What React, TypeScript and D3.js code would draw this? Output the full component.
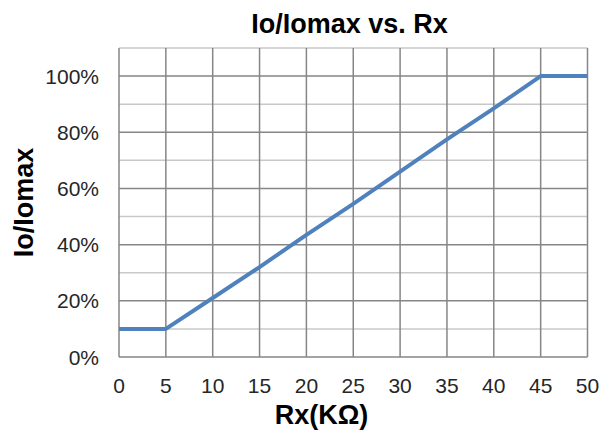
import React from "react";
import * as d3 from "d3";

const rx = [0, 5, 10, 15, 20, 25, 30, 35, 40, 45, 50];
const ratio = [0.1, 0.1, 0.21, 0.32, 0.435, 0.545, 0.66, 0.775, 0.885, 1.0, 1.0];
const xTicks = [0, 5, 10, 15, 20, 25, 30, 35, 40, 45, 50];
const yMajor = [0, 0.2, 0.4, 0.6, 0.8, 1.0];
const yMinor = [0.1, 0.3, 0.5, 0.7, 0.9, 1.1];

const W = 606, H = 432;
const left = 119, right = 587.5, top = 48, bottom = 357;
const font = "'Liberation Sans', Arial, sans-serif";

export default function App() {
  const x = d3.scaleLinear().domain([0, 50]).range([left, right]);
  const y = d3.scaleLinear().domain([0, 1.1]).range([bottom, top]);
  const line = d3.line<number>().x((_, i) => x(rx[i])).y((d) => y(d));
  const pct = d3.format(".0%");
  return (
    <svg width={W} height={H} style={{ position: "absolute", left: 0, top: 0, background: "#fff" }}>
      {yMinor.map((v) => (
        <line key={"m" + v} x1={left} x2={right} y1={y(v)} y2={y(v)} stroke="#c8c8c8" strokeWidth={1.5} />
      ))}
      {yMajor.map((v) => (
        <line key={"M" + v} x1={left} x2={right} y1={y(v)} y2={y(v)} stroke="#868686" strokeWidth={1.5} />
      ))}
      {xTicks.map((v) => (
        <line key={"v" + v} x1={x(v)} x2={x(v)} y1={top} y2={bottom} stroke="#868686" strokeWidth={1.5} />
      ))}
      <path d={line(ratio) || ""} fill="none" stroke="#4F81BD" strokeWidth={4} strokeLinejoin="round" />
      {yMajor.map((v) => (
        <text key={"yl" + v} x={99} y={y(v)} dy="0.36em" textAnchor="end" fontFamily={font} fontSize={21} fill="#262626">
          {pct(v)}
        </text>
      ))}
      {xTicks.map((v) => (
        <text key={"xl" + v} x={x(v)} y={393} textAnchor="middle" fontFamily={font} fontSize={21} fill="#262626">
          {v}
        </text>
      ))}
      <text x={349.5} y={33} textAnchor="middle" fontFamily={font} fontSize={27} fontWeight="bold" fill="#000">
        Io/Iomax vs. Rx
      </text>
      <text x={321.5} y={424} textAnchor="middle" fontFamily={font} fontSize={27} fontWeight="bold" fill="#000">
        Rx(KΩ)
      </text>
      <text transform="translate(33,202.5) rotate(-90)" textAnchor="middle" fontFamily={font} fontSize={27} fontWeight="bold" fill="#000">
        Io/Iomax
      </text>
    </svg>
  );
}
